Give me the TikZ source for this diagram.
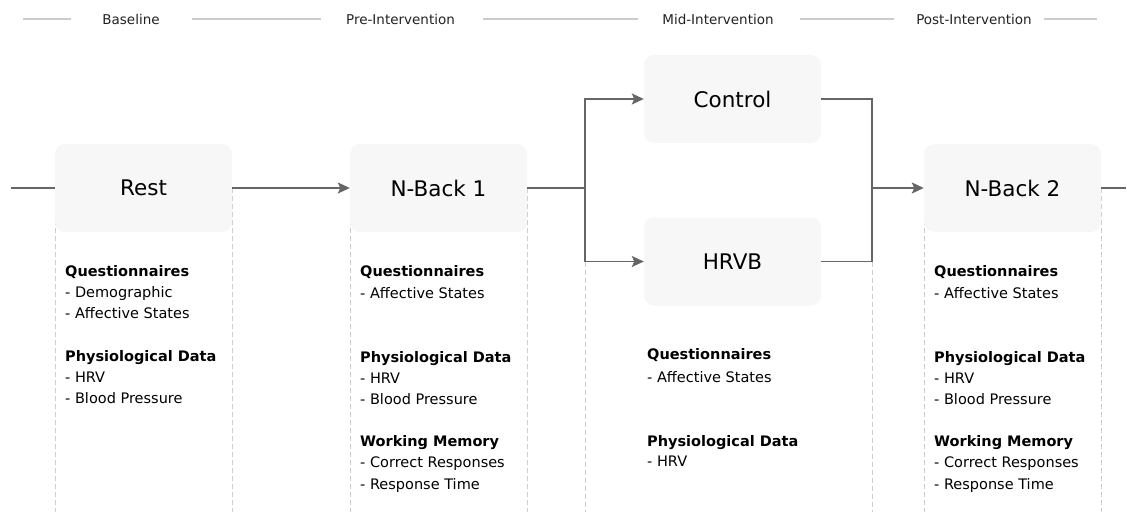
\documentclass[tikz,border=0pt]{standalone}
\usepackage{fontspec}
\setmainfont{DejaVu Sans}
\usetikzlibrary{arrows.meta}
\definecolor{boxfill}{HTML}{F7F7F7}
\definecolor{conn}{HTML}{666666}
\definecolor{dashc}{HTML}{CCCCCC}
\definecolor{hdrline}{HTML}{CCCCCC}
\definecolor{hdrtext}{HTML}{222222}
\tikzset{
  stagebox/.style={fill=boxfill, rounded corners=10pt, minimum width=177pt, minimum height=88pt, inner sep=0pt, font=\fontsize{21.5}{24}\selectfont, text=black},
  conn/.style={draw=conn, line width=1.8pt},
  arr/.style={conn, -{Stealth[length=12pt,width=11pt,inset=2.5pt]}},
  guide/.style={draw=dashc, line width=1pt, dash pattern=on 5pt off 3pt},
  hdr/.style={anchor=base, inner sep=0pt, font=\fontsize{13.5}{16}\selectfont, text=hdrtext},
  hdrrule/.style={draw=hdrline, line width=2pt},
  hd/.style={anchor=base west, inner sep=0pt, font=\fontsize{14.5}{17}\selectfont\bfseries, text=black},
  it/.style={anchor=base west, inner sep=0pt, font=\fontsize{14.5}{17}\selectfont, text=black},
}
\begin{document}
\begin{tikzpicture}[x=1pt,y=-1pt]
\useasboundingbox (0,0) rectangle (1137,512);

% header
\node[hdr] (hBase) at (131,24) {Baseline};
\node[hdr] (hPre) at (400.5,24) {Pre-Intervention};
\node[hdr] (hMid) at (718,24) {Mid-Intervention};
\node[hdr] (hPost) at (974,24) {Post-Intervention};
\draw[hdrrule] (23,19) -- (71,19);
\draw[hdrrule] (192,19) -- (321,19);
\draw[hdrrule] (483,19) -- (638,19);
\draw[hdrrule] (800,19) -- (894,19);
\draw[hdrrule] (1044,19) -- (1097,19);

% guides (dashed)
\draw[guide] (55,188) -- (55,512);
\draw[guide] (232,188) -- (232,512);
\draw[guide] (350,188) -- (350,512);
\draw[guide] (527,188) -- (527,512);
\draw[guide] (585,261.5) -- (585,512);
\draw[guide] (872,261.5) -- (872,512);
\draw[guide] (924,188) -- (924,512);
\draw[guide] (1101,188) -- (1101,512);

% boxes
\node[stagebox] (rest) at (143.5,188) {Rest};
\node[stagebox] (nb1) at (438.5,188) {N-Back 1};
\node[stagebox] (ctrl) at (732.5,99) {Control};
\node[stagebox] (hrvb) at (732.5,261.5) {HRVB};
\node[stagebox] (nb2) at (1012.5,188) {N-Back 2};

% connectors
\coordinate (lstub) at (11,188);
\coordinate (rstub) at (1126,188);
\coordinate (split) at (585,188);
\coordinate (join) at (872,188);
\draw[conn] (lstub) -- (rest.west);
\draw[arr] (rest.east) -- (nb1.west);
\draw[conn] (nb1.east) -- (split);
\draw[arr] (split) |- (ctrl.west);
\draw[arr] (split) |- (hrvb.west);
\draw[conn] (ctrl.east) -| (join);
\draw[conn] (hrvb.east) -| (join);
\draw[arr] (join) -- (nb2.west);
\draw[conn] (nb2.east) -- (rstub);

% Rest text
\node[hd] (r1) at (65,276) {Questionnaires};
\node[it] (r2) at (65,297) {- Demographic};
\node[it] (r3) at (65,318) {- Affective States};
\node[hd] (r4) at (65,361) {Physiological Data};
\node[it] (r5) at (65,382) {- HRV};
\node[it] (r6) at (65,403) {- Blood Pressure};

% N-Back 1 text
\node[hd] (a1) at (360,276.5) {Questionnaires};
\node[it] (a2) at (360,298.5) {- Affective States};
\node[hd] (a3) at (360,362) {Physiological Data};
\node[it] (a4) at (360,383.5) {- HRV};
\node[it] (a5) at (360,404) {- Blood Pressure};
\node[hd] (a6) at (360,446) {Working Memory};
\node[it] (a7) at (360,467) {- Correct Responses};
\node[it] (a8) at (360,489) {- Response Time};

% Mid text
\node[hd] (m1) at (647,359) {Questionnaires};
\node[it] (m2) at (647,382) {- Affective States};
\node[hd] (m3) at (647,446) {Physiological Data};
\node[it] (m4) at (647,466) {- HRV};

% N-Back 2 text
\node[hd] (b1) at (934,276.5) {Questionnaires};
\node[it] (b2) at (934,298.5) {- Affective States};
\node[hd] (b3) at (934,362) {Physiological Data};
\node[it] (b4) at (934,383.5) {- HRV};
\node[it] (b5) at (934,404) {- Blood Pressure};
\node[hd] (b6) at (934,446) {Working Memory};
\node[it] (b7) at (934,467) {- Correct Responses};
\node[it] (b8) at (934,489) {- Response Time};
\end{tikzpicture}
\end{document}
